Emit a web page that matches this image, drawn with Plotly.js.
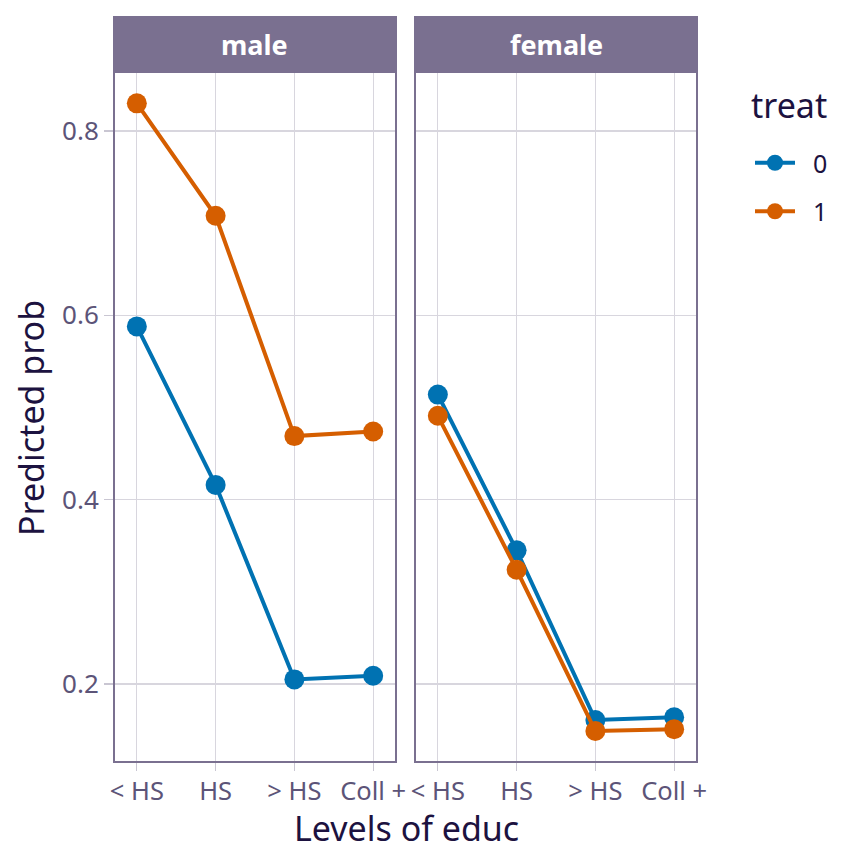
<!DOCTYPE html>
<html>
<head>
<meta charset="utf-8">
<script src="https://cdn.plot.ly/plotly-3.0.1.min.js"></script>
<style>
  html, body { margin: 0; padding: 0; background: #ffffff; }
  #chart { width: 864px; height: 865px; }
</style>
</head>
<body>
<div id="chart"></div>
<script>
// Predicted probability by education level, faceted by sex
const educLevels = ['< HS', 'HS', '> HS', 'Coll +'];
const panels = ['male', 'female'];
const treatLevels = ['0', '1'];

const male0   = [0.588, 0.416, 0.205, 0.209];
const male1   = [0.830, 0.708, 0.469, 0.474];
const female0 = [0.514, 0.345, 0.161, 0.164];
const female1 = [0.491, 0.324, 0.149, 0.151];

const yTicks = [0.2, 0.4, 0.6, 0.8];

const treatColors = { '0': '#0072B2', '1': '#D55E00' };

const W = 864, H = 865;
const px = v => v / W;
const py = v => 1 - v / H;

const FONT = 'Noto Sans, Open Sans, sans-serif';
const textDark = '#1c1240';
const textMid = '#5c5478';
const borderCol = '#7a7090';
const gridCol = '#d8d6de';

function series(vals, treat, xa, showLegend) {
  return {
    x: educLevels,
    y: vals,
    xaxis: xa,
    yaxis: xa === 'x' ? 'y' : 'y2',
    type: 'scatter',
    mode: 'lines+markers',
    // small padding so the label sits a bit further from the key, as in the original
    name: '\u00a0\u00a0' + treat,
    legendgroup: treat,
    showlegend: showLegend,
    line: { color: treatColors[treat], width: 4 },
    marker: { color: treatColors[treat], size: 20 },
    hoverinfo: 'skip'
  };
}

const traces = [
  series(male0, treatLevels[0], 'x', true),
  series(male1, treatLevels[1], 'x', true),
  series(female0, treatLevels[0], 'x2', false),
  series(female1, treatLevels[1], 'x2', false)
];

const xCommon = {
  type: 'category',
  categoryarray: educLevels,
  range: [-0.29, 3.29],
  showgrid: true,
  gridcolor: gridCol,
  gridwidth: 1.3,
  zeroline: false,
  showline: false,
  ticks: 'outside',
  ticklen: 8,
  tickwidth: 1.3,
  tickcolor: '#c9c6d2',
  ticklabelstandoff: -2,
  tickfont: { family: FONT, size: 25.5, color: textMid },
  fixedrange: true
};

const yCommon = {
  range: [0.1154, 0.864],
  tickvals: yTicks,
  ticktext: yTicks.map(v => v.toFixed(1)),
  showgrid: true,
  gridcolor: gridCol,
  gridwidth: 1.3,
  zeroline: false,
  showline: false,
  domain: [py(762), py(72)],
  fixedrange: true
};

const layout = {
  width: W,
  height: H,
  margin: { l: 0, r: 0, t: 0, b: 0 },
  paper_bgcolor: '#ffffff',
  plot_bgcolor: '#ffffff',
  font: { family: FONT, color: textMid },
  xaxis: Object.assign({}, xCommon, { domain: [px(114), px(396)], anchor: 'y' }),
  xaxis2: Object.assign({}, xCommon, { domain: [px(415), px(697)], anchor: 'y2' }),
  yaxis: Object.assign({}, yCommon, {
    anchor: 'x',
    ticks: 'outside',
    ticklen: 9,
    tickwidth: 1.3,
    tickcolor: '#c9c6d2',
    tickfont: { family: FONT, size: 26, color: textMid }
  }),
  yaxis2: Object.assign({}, yCommon, { anchor: 'x2', matches: 'y', showticklabels: false, ticks: '' }),
  showlegend: true,
  legend: {
    x: px(750),
    y: py(140),
    xanchor: 'left',
    yanchor: 'top',
    font: { family: FONT, size: 25, color: textDark },
    bgcolor: 'rgba(0,0,0,0)',
    itemwidth: 40,
    tracegroupgap: 13
  },
  shapes: [],
  annotations: [
    {
      text: 'Levels of educ',
      xref: 'paper', yref: 'paper',
      x: px(406), y: py(828),
      xanchor: 'center', yanchor: 'middle',
      showarrow: false,
      font: { family: FONT, size: 34, color: textDark }
    },
    {
      text: 'Predicted prob',
      xref: 'paper', yref: 'paper',
      x: px(31), y: py(418),
      xanchor: 'center', yanchor: 'middle',
      textangle: -90,
      showarrow: false,
      font: { family: FONT, size: 34, color: textDark }
    },
    {
      text: 'treat',
      xref: 'paper', yref: 'paper',
      x: px(749), y: py(105),
      xanchor: 'left', yanchor: 'middle',
      showarrow: false,
      font: { family: FONT, size: 34, color: textDark }
    }
  ]
};

// panel borders and strips
[['x', 'y'], ['x2', 'y2']].forEach(([xa, ya], i) => {
  layout.shapes.push({
    type: 'rect', xref: xa + ' domain', yref: ya + ' domain',
    x0: 0, x1: 1, y0: 0, y1: 1,
    line: { color: borderCol, width: 2 }, fillcolor: 'rgba(0,0,0,0)', layer: 'above'
  });
  layout.shapes.push({
    type: 'rect', xref: xa + ' domain', yref: 'paper',
    x0: 0, x1: 1, y0: py(72), y1: py(17),
    line: { color: borderCol, width: 2 }, fillcolor: borderCol, layer: 'above'
  });
  layout.annotations.push({
    text: '<b>' + panels[i] + '</b>',
    xref: xa + ' domain', yref: 'paper',
    x: 0.5, y: py(44.5),
    xanchor: 'center', yanchor: 'middle',
    showarrow: false,
    font: { family: FONT, size: 27, color: '#ffffff' }
  });
});

Plotly.newPlot('chart', traces, layout, { displayModeBar: false, staticPlot: true });
</script>
</body>
</html>
